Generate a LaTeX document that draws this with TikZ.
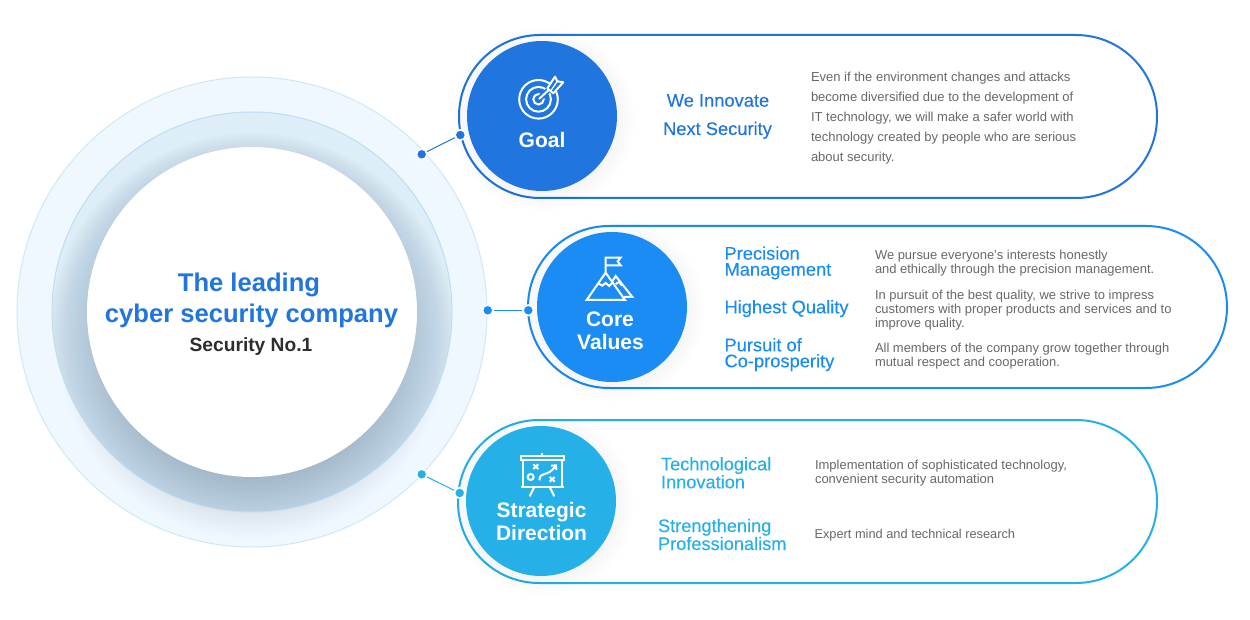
\documentclass[tikz,border=0pt]{standalone}
\usepackage{fontspec}
\setmainfont{Liberation Sans}
\newfontfamily\medfont[FakeBold=0.2]{Liberation Sans}
\definecolor{cgoal}{HTML}{2175DE}
\definecolor{ccore}{HTML}{1C8CF5}
\definecolor{cstrat}{HTML}{25B1E8}
\definecolor{cdesc}{HTML}{686868}
\definecolor{cdark}{HTML}{2D2D2D}
\definecolor{cshadow}{HTML}{6A8398}
\definecolor{cring}{HTML}{EFF8FE}
\definecolor{cringline}{HTML}{CFE8F8}
\definecolor{cmid}{HTML}{DDEEF9}
\definecolor{cmidline}{HTML}{BEDDF3}
\tikzset{
  txt/.style={inner sep=0pt,outer sep=0pt,anchor=base west,align=left},
  ctxt/.style={inner sep=0pt,outer sep=0pt,anchor=base,align=center},
  pill/.style={draw=#1,line width=2pt,fill=white,rectangle,rounded corners=81pt,inner sep=0pt},
  badge/.style={circle,fill=#1,inner sep=0pt,minimum size=150pt},
  dot/.style={circle,fill=#1,draw=white,line width=1.6pt,inner sep=0pt,minimum size=10.5pt},
  link/.style={draw=#1,line width=1pt},
  badgetxt/.style={ctxt,text=white,font=\fontsize{21}{22}\selectfont\bfseries},
  label/.style={txt,text=#1,font=\medfont\fontsize{18.3}{16}\selectfont},
  desc/.style={txt,text=cdesc,font=\fontsize{12.95}{14}\selectfont},
  icon/.style={draw=white,line width=2pt,line join=miter},
}
\begin{document}
\begin{tikzpicture}[x=1pt,y=-1pt]
\useasboundingbox (0,0) rectangle (1250,620);
\fill[white] (0,0) rectangle (1250,620);
% big rings
\fill[cring] (252,312) circle (235);
\foreach \r in {160,161.5,...,195}{\fill[cshadow,opacity=0.0042] (252,345) circle (\r);}
\foreach \r in {196,197.5,...,226}{\fill[cshadow,opacity=0.0016] (252,345) circle (\r);}
\draw[cringline,line width=1pt] (252,312) circle (235);
\fill[cmid] (252,312) circle (200);
\begin{scope}
\clip (252,312) circle (200);
\foreach \r in {140,141.5,...,205}{\fill[cshadow,opacity=0.0135] (252,337) circle (\r);}
\end{scope}
\draw[cmidline,line width=1pt] (252,312) circle (200);
\node[circle,fill=white,inner sep=0pt,minimum size=330pt] (hub) at (252,312) {};
\node[ctxt,text=cgoal,font=\fontsize{25.6}{26}\selectfont\bfseries] (t1) at (249,291) {The leading};
\node[ctxt,text=cgoal,font=\fontsize{25.6}{26}\selectfont\bfseries] (t2) at (251.5,323) {cyber security company};
\node[ctxt,text=cdark,font=\fontsize{19.2}{20}\selectfont\bfseries] (t3) at (251,351.5) {Security No.1};
% pills
\node[pill=cgoal,minimum width=698pt,minimum height=163pt] (p1) at (808,116.5) {};
\node[pill=ccore,minimum width=699pt,minimum height=162pt] (p2) at (877.5,307) {};
\node[pill=cstrat,minimum width=699pt,minimum height=163pt] (p3) at (807.5,501.5) {};
% badge shadows
\foreach \cx/\cy in {543/119,613/310,542/504}{
  \foreach \r in {72,74,...,92}{\fill[black,opacity=0.004] (\cx,\cy) circle (\r);}
}
\node[badge=cgoal] (b1) at (542,116) {};
\node[badge=ccore] (b2) at (612,307) {};
\node[badge=cstrat] (b3) at (541,501) {};
% connectors
\node[dot=cgoal] (d1a) at (421.7,154.3) {};
\node[dot=cgoal] (d1b) at (460.3,135) {};
\draw[link=cgoal] (d1a) -- (d1b);
\node[dot=ccore] (d2a) at (487.7,310.3) {};
\node[dot=ccore] (d2b) at (528.3,310.3) {};
\draw[link=ccore] (d2a) -- (d2b);
\node[dot=cstrat] (d3a) at (421.7,474.3) {};
\node[dot=cstrat] (d3b) at (459.7,493) {};
\draw[link=cstrat] (d3a) -- (d3b);
% badge titles
\node[badgetxt] (g) at (542,147.7) {Goal};
\node[badgetxt] (c1) at (610,326.7) {Core};
\node[badgetxt] (c2) at (610.5,349) {Values};
\node[badgetxt] (s1) at (541.5,517.3) {Strategic};
\node[badgetxt] (s2) at (541.5,540) {Direction};
% target icon
\begin{scope}[icon]
\draw (538.5,99.3) circle (19.3);
\draw (538.5,99.3) circle (12.4);
\draw (538.5,99.3) circle (5.2);
\draw[cgoal,line width=5.5pt] (540,98) -- (553,86);
\draw (539,99) -- (552,87);
\draw[fill=cgoal,line join=round] (555,76.7) -- (557.3,81.3) -- (563.3,82.3) -- (553.3,93.3) -- (547.3,88.3) -- cycle;
\draw[line width=1.3pt] (551,90.5) -- (557.3,81.3);
\end{scope}
% mountain icon
\begin{scope}[shift={(470,220)},x=0.3333pt,y=-0.3333pt,icon]
\draw (407,158) -- (407,113) -- (452,113) -- (443,124.5) -- (452,136) -- (407,136);
\draw (428,183) -- (437,168) -- (487,231) -- (462,231);
\draw (437,192) -- (447,186) -- (456,197);
\draw (407,158) -- (350,240) -- (465,240) -- cycle;
\draw (385,190) -- (397,197) -- (407,189) -- (418,198) -- (429,186);
\end{scope}
% board icon
\begin{scope}[shift={(410,415)},x=0.3333pt,y=-0.3333pt,icon]
\draw (397,115) -- (397,122);
\draw (332,122) rectangle (462,134);
\draw (340,134) -- (340,215) (455,134) -- (455,215);
\draw (332,216) -- (462,216);
\draw (372,218) -- (359,244) (420,218) -- (433,244);
\draw (370,148) -- (385,162) (385,148) -- (370,162);
\draw (419,186) -- (434,200) (434,186) -- (419,200);
\draw (362,186) circle (9);
\draw (388,196) .. controls (391,165) and (412,190) .. (436,153);
\draw (423,152) -- (438,151) -- (439,165);
\end{scope}
% goal text
\node[label=cgoal,ctxt] (g1) at (718,106.7) {We Innovate};
\node[label=cgoal,ctxt] (g2) at (717.5,135) {Next Security};
\node[desc,font=\fontsize{13}{20}\selectfont] (g3) at (811,161.7) {Even if the environment changes and attacks\\become diversified due to the development of\\IT technology, we will make a safer world with\\technology created by people who are serious\\about security.};
% core text
\node[label=ccore] (v1) at (724.5,275.7) {Precision\\Management};
\node[label=ccore] (v2) at (724.5,313.3) {Highest Quality};
\node[label=ccore] (v3) at (724.5,367.3) {Pursuit of\\Co-prosperity};
\node[desc] (v4) at (875,273.3) {We pursue everyone's interests honestly\\and ethically through the precision management.};
\node[desc] (v5) at (875,327) {In pursuit of the best quality, we strive to impress\\customers with proper products and services and to\\improve quality.};
\node[desc] (v6) at (875,366.3) {All members of the company grow together through\\mutual respect and cooperation.};
% strategic text
\node[label=cstrat,font=\medfont\fontsize{18.2}{18}\selectfont] (r1) at (661,488.3) {Technological\\Innovation};
\node[label=cstrat,font=\medfont\fontsize{18.2}{18}\selectfont] (r2) at (658,550) {Strengthening\\Professionalism};
\node[desc,font=\fontsize{13}{14}\selectfont] (r3) at (815,483.3) {Implementation of sophisticated technology,\\convenient security automation};
\node[desc,font=\fontsize{12.8}{14}\selectfont] (r4) at (814.5,538.3) {Expert mind and technical research};
\end{tikzpicture}
\end{document}
